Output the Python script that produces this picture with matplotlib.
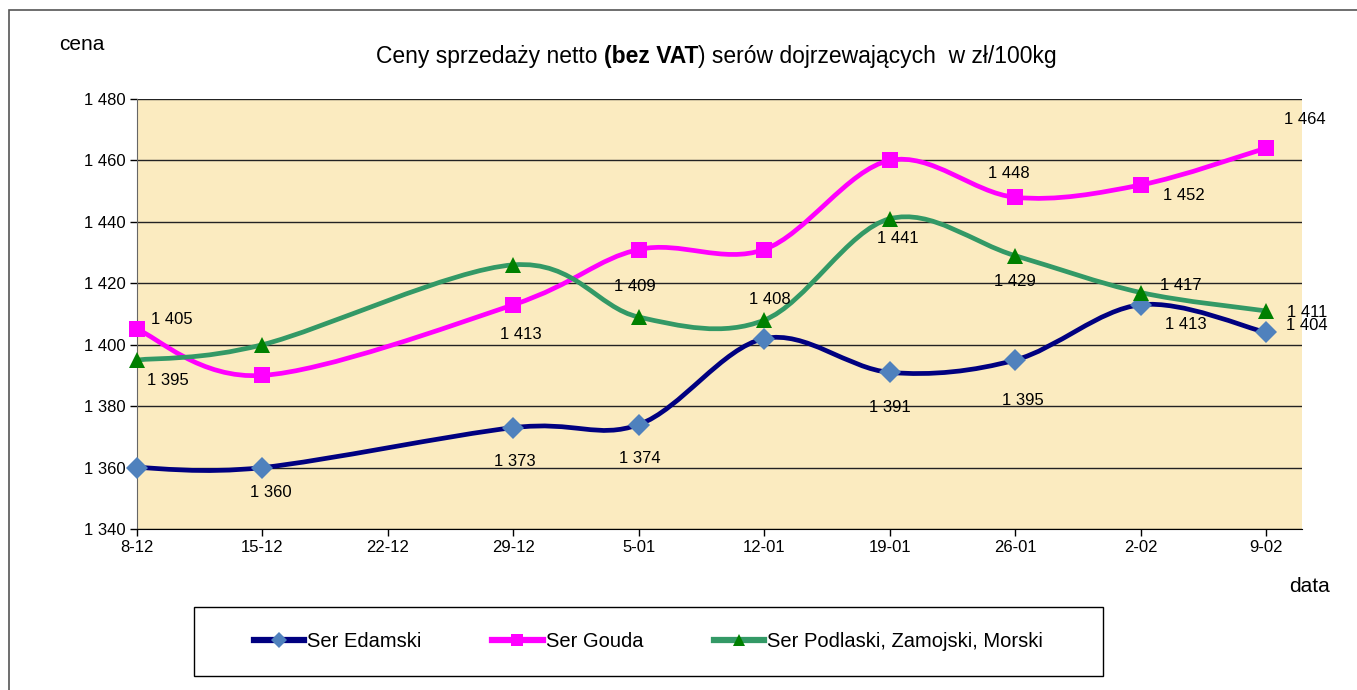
import matplotlib.pyplot as plt
from matplotlib.path import Path
from matplotlib.patches import PathPatch, Rectangle
from matplotlib.lines import Line2D

plt.rcParams['font.family'] = ['Liberation Sans', 'DejaVu Sans']

dates = ['8-12', '15-12', '22-12', '29-12', '5-01', '12-01', '19-01', '26-01', '2-02', '9-02']
# None = no quotation that week
edamski = [1360, 1360, None, 1373, 1374, 1402, 1391, 1395, 1413, 1404]
gouda = [1405, 1390, None, 1413, 1431, 1431, 1460, 1448, 1452, 1464]
podlaski = [1395, 1400, None, 1426, 1409, 1408, 1441, 1429, 1417, 1411]

names = ['Ser Edamski', 'Ser Gouda', 'Ser Podlaski, Zamojski, Morski']


def fmt(v):
    return '{:,}'.format(int(v)).replace(',', ' ')


def smooth_path(xs, ys):
    # Excel-like smoothed line: Catmull-Rom as cubic Bezier segments
    pts = list(zip(xs, ys))
    verts = [pts[0]]
    codes = [Path.MOVETO]
    n = len(pts)
    for i in range(n - 1):
        p0 = pts[i - 1] if i > 0 else pts[i]
        p1 = pts[i]
        p2 = pts[i + 1]
        p3 = pts[i + 2] if i + 2 < n else pts[i + 1]
        c1 = (p1[0] + (p2[0] - p0[0]) / 6, p1[1] + (p2[1] - p0[1]) / 6)
        c2 = (p2[0] - (p3[0] - p1[0]) / 6, p2[1] - (p3[1] - p1[1]) / 6)
        verts += [c1, c2, p2]
        codes += [Path.CURVE4] * 3
    return Path(verts, codes)


W, H = 1357, 690
fig = plt.figure(figsize=(W / 100, H / 100), dpi=100)
# outer chart border
fig.patches.append(Rectangle((9 / W, -0.1), 1.2, 1.1 - 10 / H,
                             transform=fig.transFigure, fill=False,
                             edgecolor='#555555', linewidth=1.2))
# legend frame
fig.patches.append(Rectangle((194 / W, 1 - 676 / H), 909 / W, 69 / H,
                             transform=fig.transFigure, fill=False,
                             edgecolor='black', linewidth=1))

ax = fig.add_axes([137 / W, 161 / H, 1165 / W, 430 / H])
ax.set_facecolor('#FBEBC0')
ax.set_xlim(0, 9.287)
ax.set_ylim(1340, 1480)
ax.set_yticks(range(1340, 1481, 20))
ax.set_yticklabels([fmt(v) for v in range(1340, 1481, 20)])
ax.set_xticks(range(len(dates)))
ax.set_xticklabels(dates)
ax.tick_params(labelsize=12, length=5, width=1, color='black', pad=3)
ax.grid(axis='y', color='#222222', linewidth=1)
ax.set_axisbelow(True)
for s in ['top', 'right']:
    ax.spines[s].set_visible(False)
ax.spines['left'].set_color('#666666')
ax.spines['bottom'].set_color('black')

series = [
    (edamski, '#000080', 'D', '#4F81BD', 11),
    (gouda, '#FF00FF', 's', '#FF00FF', 11),
    (podlaski, '#339966', '^', '#008000', 12),
]

for vals, lc, mk, mc, ms in series:
    xs = [i for i, v in enumerate(vals) if v is not None]
    ys = [v for v in vals if v is not None]
    ax.add_patch(PathPatch(smooth_path(xs, ys), fill=False, edgecolor=lc,
                           linewidth=3.4, zorder=3, capstyle='round'))
    ax.plot(xs, ys, linestyle='none', marker=mk, markersize=ms, color=mc,
            markeredgewidth=0, zorder=4, clip_on=False)

# data labels: series index, date index, offset in pixels
labels = [
    (0, 1, 8, -25), (0, 3, 1, -34), (0, 4, 1, -34), (0, 6, 0, -35),
    (0, 7, 8, -40), (0, 8, 45, -20), (0, 9, 41, 7),
    (1, 0, 35, 10), (1, 3, 7, -30), (1, 7, -6, 24), (1, 8, 43, -10), (1, 9, 39, 29),
    (2, 0, 31, -20), (2, 4, -4, 31), (2, 5, 6, 21), (2, 6, 8, -20),
    (2, 7, 0, -26), (2, 8, 40, 7), (2, 9, 41, -2),
]
data = [edamski, gouda, podlaski]
for si, di, dx, dy in labels:
    v = data[si][di]
    ax.annotate(fmt(v), (di, v), xytext=(dx, dy), textcoords='offset pixels',
                ha='center', va='center', fontsize=12, zorder=5,
                annotation_clip=False)

# title in three pieces (middle one bold)
t1 = fig.text(376 / W, 1 - 68 / H, 'Ceny sprzedaży netto', ha='left',
              va='bottom', fontsize=16.5)
t2 = fig.add_artist(plt.Annotation('(bez VAT', xy=(1, 0), xycoords=t1,
                                   xytext=(6, 0), textcoords='offset pixels',
                                   va='bottom', ha='left', fontsize=16.5,
                                   fontweight='bold'))
t3 = fig.add_artist(plt.Annotation(') serów dojrzewających  w zł/100kg', xy=(1, 0),
                                   xycoords=t2, va='bottom', ha='left', fontsize=16.5))

fig.text(82 / W, 1 - 45 / H, 'cena', ha='center', va='center', fontsize=15)
fig.text(1310 / W, 1 - 587 / H, 'data', ha='center', va='center', fontsize=15)

handles = [Line2D([], [], color=lc, linewidth=4.5, marker=mk, markersize=ms * 0.75,
                  markerfacecolor=mc, markeredgewidth=0)
           for _, lc, mk, mc, ms in series]
leg = fig.legend(handles, names, loc='center', ncol=3,
                 bbox_to_anchor=(194 / W, 1 - 676 / H, 909 / W, 69 / H),
                 frameon=False, fontsize=14.5,
                 handlelength=2.5, handletextpad=0.15, columnspacing=3.5)

fig.savefig('out.png', dpi=100)
